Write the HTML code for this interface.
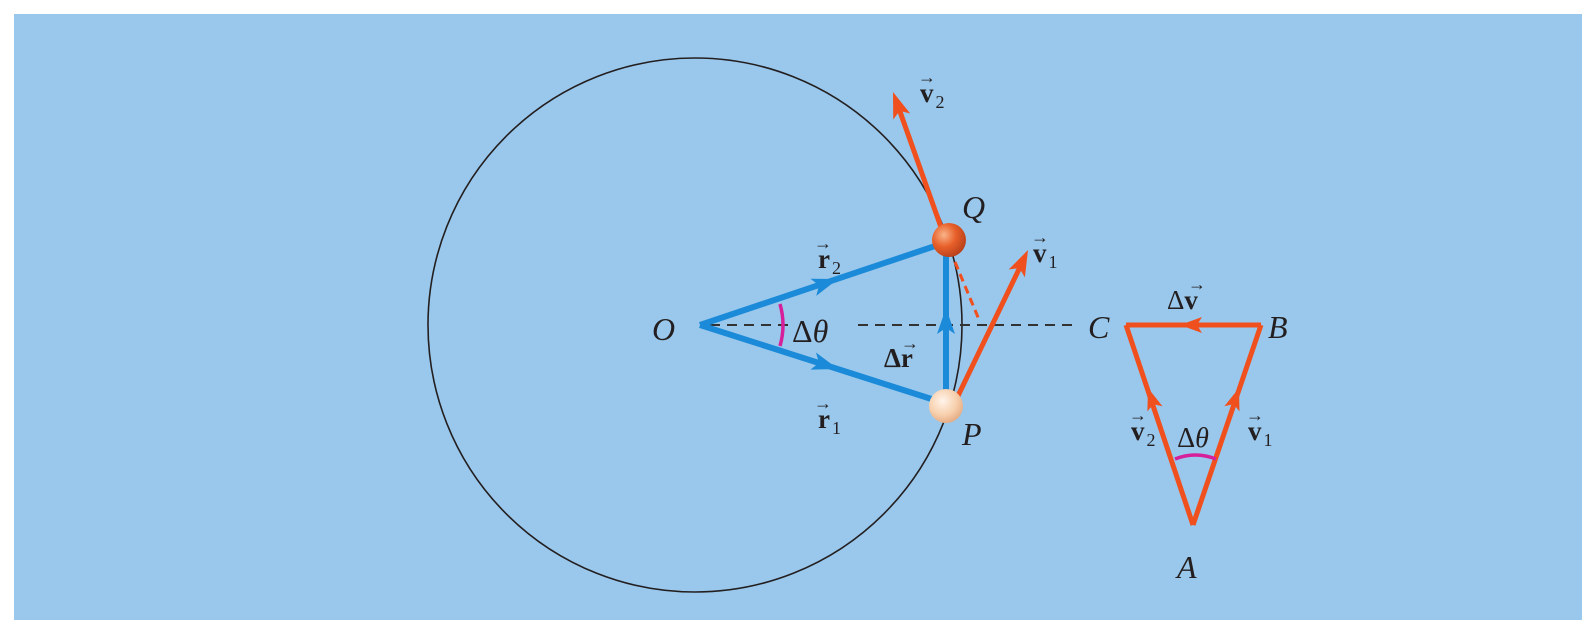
<!DOCTYPE html>
<html><head><meta charset="utf-8"><style>
body{margin:0;background:#fff}
svg{display:block}
text{font-family:"Liberation Serif",serif;fill:#231f20}
.it{font-style:italic;font-size:32px}
.b{font-weight:bold;font-size:27px}
.ar{font-size:18px;font-weight:bold}
</style></head><body>
<svg width="1595" height="642" viewBox="0 0 1595 642">
<defs>
<radialGradient id="gq" cx="0.35" cy="0.35" r="0.7"><stop offset="0" stop-color="#f9b48a"/><stop offset="0.5" stop-color="#e8602a"/><stop offset="1" stop-color="#b8401a"/></radialGradient>
<radialGradient id="gp" cx="0.4" cy="0.35" r="0.7"><stop offset="0" stop-color="#fff4ea"/><stop offset="0.6" stop-color="#f7cfac"/><stop offset="1" stop-color="#e2a880"/></radialGradient>
<polygon id="ah" points="0,0 -26,-9 -20,0 -26,9"/>
<polygon id="ahs" points="0,0 -22,-8 -17,0 -22,8"/>
</defs>
<rect x="14" y="14" width="1568" height="606" fill="#9ac8ec"/>
<circle cx="695" cy="325" r="267" fill="none" stroke="#231f20" stroke-width="1.6"/>
<line x1="710" y1="325" x2="788" y2="325" stroke="#333" stroke-width="2" stroke-dasharray="10,7"/>
<line x1="858" y1="325" x2="1075" y2="325" stroke="#333" stroke-width="2" stroke-dasharray="10,7"/>
<g stroke="#1b8ad8" stroke-width="6" fill="none">
<line x1="700" y1="325" x2="944" y2="243"/>
<line x1="700" y1="325" x2="944" y2="403"/>
<line x1="946" y1="400" x2="946" y2="250"/>
</g>
<g fill="#1b8ad8">
<use href="#ah" transform="translate(838,279) rotate(-18.6)"/>
<use href="#ah" transform="translate(838,369) rotate(17.7)"/>
<use href="#ah" transform="translate(946,308) rotate(-90)"/>
</g>
<path d="M780,304 Q786,325 780,346" stroke="#d61f9b" stroke-width="3.5" fill="none"/>
<g stroke="#f0501e" stroke-width="5" fill="none">
<line x1="942" y1="230" x2="898" y2="106"/>
<line x1="956" y1="400" x2="1022" y2="263"/>
<line x1="1126" y1="325" x2="1193" y2="525"/>
<line x1="1261" y1="325" x2="1193" y2="525"/>
<line x1="1126" y1="325" x2="1261" y2="325"/>
</g>
<line x1="955" y1="262" x2="980" y2="322" stroke="#f0501e" stroke-width="3" stroke-dasharray="8,5"/>
<g fill="#f0501e">
<use href="#ah" transform="translate(893,92) rotate(-109.6)"/>
<use href="#ah" transform="translate(1028,250) rotate(-64.4)"/>
<use href="#ahs" transform="translate(1180,325) rotate(180)"/>
<use href="#ahs" transform="translate(1148,388) rotate(-108.5)"/>
<use href="#ahs" transform="translate(1239,388) rotate(-71.2)"/>
</g>
<path d="M1175,459 Q1195,451 1216,459" stroke="#d61f9b" stroke-width="3.5" fill="none"/>
<circle cx="949" cy="240" r="17" fill="url(#gq)"/>
<circle cx="946" cy="406" r="17" fill="url(#gp)"/>
<text class="it" x="652" y="340">O</text>
<text x="792" y="342" style="font-size:32px">Δ<tspan font-style="italic">θ</tspan></text>
<text class="it" x="962" y="218">Q</text>
<text class="it" x="962" y="445">P</text>
<text class="b" x="884" y="367">Δr</text><text class="ar" x="910" y="349" text-anchor="middle">→</text>
<text class="b" x="818" y="268">r<tspan font-size="18" font-weight="normal" dx="2" dy="6">2</tspan></text><text class="ar" x="823" y="249" text-anchor="middle">→</text>
<text class="b" x="818" y="428">r<tspan font-size="18" font-weight="normal" dx="2" dy="6">1</tspan></text><text class="ar" x="823" y="409" text-anchor="middle">→</text>
<text class="b" x="920" y="102">v<tspan font-size="18" font-weight="normal" dx="2" dy="6">2</tspan></text><text class="ar" x="927" y="83" text-anchor="middle">→</text>
<text class="b" x="1033" y="262">v<tspan font-size="18" font-weight="normal" dx="2" dy="6">1</tspan></text><text class="ar" x="1040" y="243" text-anchor="middle">→</text>
<text class="it" x="1088" y="338">C</text>
<text class="it" x="1268" y="338">B</text>
<text class="it" x="1177" y="578">A</text>
<text x="1167" y="309" style="font-size:27px">Δ<tspan font-weight="bold">v</tspan></text><text class="ar" x="1197" y="290" text-anchor="middle">→</text>
<text class="b" x="1131" y="440">v<tspan font-size="18" font-weight="normal" dx="2" dy="6">2</tspan></text><text class="ar" x="1138" y="421" text-anchor="middle">→</text>
<text class="b" x="1248" y="440">v<tspan font-size="18" font-weight="normal" dx="2" dy="6">1</tspan></text><text class="ar" x="1255" y="421" text-anchor="middle">→</text>
<text x="1193" y="447" style="font-size:28px" text-anchor="middle">Δ<tspan font-style="italic">θ</tspan></text>
</svg>
</body></html>
